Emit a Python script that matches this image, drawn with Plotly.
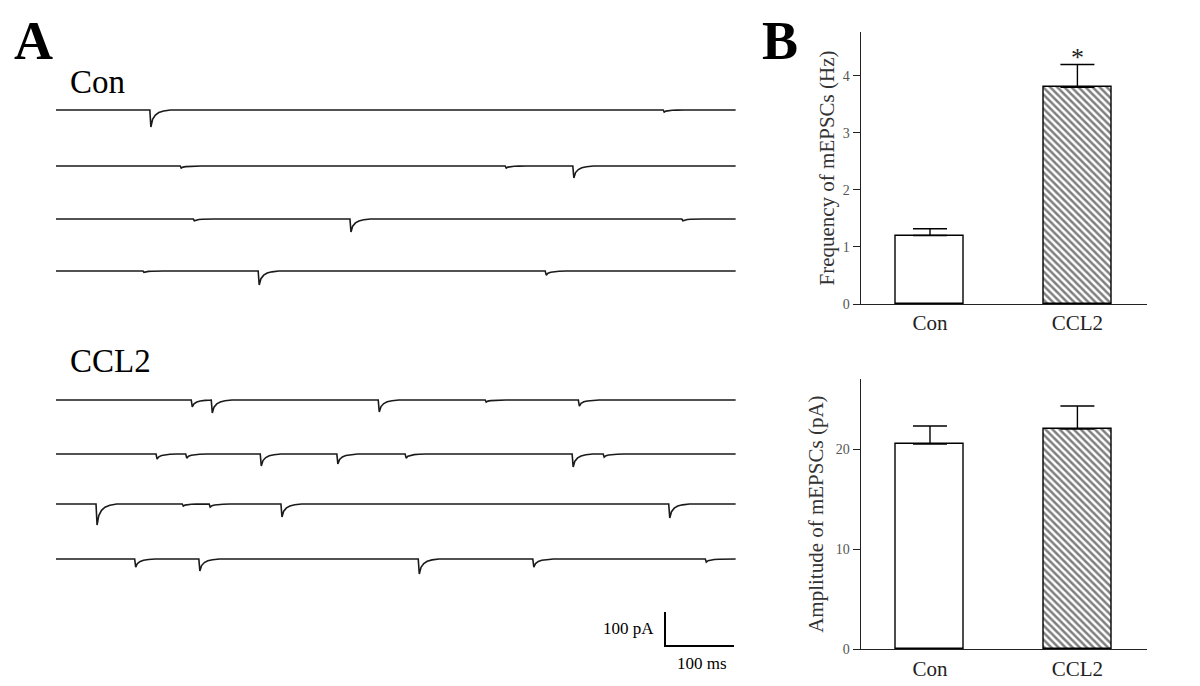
import plotly.graph_objects as go

# ---------------- data ----------------
# Panel B bar values (mean, +SEM)
groups = ["Con", "CCL2"]
freq_mean = [1.2, 3.8]      # Hz
freq_sem = [0.12, 0.4]
amp_mean = [20.5, 22.0]     # pA
amp_sem = [1.8, 2.3]

# Panel A example sweeps: events as (time ms, amplitude pA)
con_events = [
    [(136, 50), (880, 6)],
    [(180, 6), (651, 6), (749, 35)],
    [(199, 5), (426, 38), (907, 5)],
    [(126, 4), (293, 41), (709, 12)],
]
ccl2_events = [
    [(196, 20), (225, 38), (467, 35), (622, 6), (757, 18)],
    [(145, 15), (188, 12), (296, 35), (407, 29), (506, 12), (748, 38), (793, 9)],
    [(58, 62), (183, 6), (222, 9), (326, 38), (888, 41)],
    [(114, 24), (207, 35), (525, 44), (691, 24), (941, 9)],
]
sweep_ms = 985
scale_ms = 100
scale_pA = 100

# ---------------- layout helpers ----------------
# page body has an 8px margin, so the figure is drawn 8px in from the window edge
OFF = 8
W, H = 1200 - OFF, 686 - OFF
PX_PER_MS = 0.69
PA_PER_PX = 100 / 34.0
X0 = 56 - OFF  # left edge of sweeps in figure px


def px(x):
    return (x - OFF) / W


def py(y):
    return 1 - (y - OFF) / H


# event waveform (fast rise, decay) as offsets in ms / fraction of amplitude
kern_t = [0, 1.5, 4, 8, 13, 20, 30]
kern_f = [0, 1, 0.55, 0.3, 0.15, 0.06, 0]


def sweep(events, base):
    xs, ys = [0], [base]
    for t0, a in events:
        for dt, f in zip(kern_t, kern_f):
            xs.append(t0 + dt)
            ys.append(base - a * f)
    xs.append(sweep_ms)
    ys.append(base)
    return xs, ys


fig = go.Figure()

rows_px = [110, 166, 219, 271, 400, 454, 504, 559]
for i, ev in enumerate(con_events + ccl2_events):
    xs, ys = sweep(ev, -(rows_px[i] - OFF) * PA_PER_PX)
    fig.add_trace(go.Scatter(x=xs, y=ys, mode="lines", xaxis="x3", yaxis="y3",
                             line=dict(color="#1a1a1a", width=1.6), hoverinfo="skip"))

# scale bar
sb_t = (665 - OFF - X0) / PX_PER_MS
sb_y = -(646 - OFF) * PA_PER_PX
fig.add_trace(go.Scatter(x=[sb_t, sb_t, sb_t + scale_ms], y=[sb_y + scale_pA, sb_y, sb_y],
                         mode="lines", xaxis="x3", yaxis="y3",
                         line=dict(color="black", width=2), hoverinfo="skip"))

# bars
bar_style = dict(
    width=0.46,
    marker=dict(color="white", line=dict(color="black", width=1.4),
                pattern=dict(shape=["", "\\"], fgcolor="black", bgcolor="white",
                             size=5, solidity=0.5)),
)
fig.add_trace(go.Bar(x=groups, y=freq_mean, xaxis="x", yaxis="y",
                     error_y=dict(type="data", array=freq_sem, arrayminus=[0, 0],
                                  symmetric=False, color="black", thickness=1.4, width=17),
                     **bar_style))
fig.add_trace(go.Bar(x=groups, y=amp_mean, xaxis="x2", yaxis="y2",
                     error_y=dict(type="data", array=amp_sem, arrayminus=[0, 0],
                                  symmetric=False, color="black", thickness=1.4, width=17),
                     **bar_style))

serif = "Liberation Serif, Times New Roman, serif"
xdom = [px(860.7), px(1146.7)]
axis_common = dict(showgrid=False, zeroline=False, showline=True, linecolor="#222",
                   linewidth=1.3, automargin=False)
xcat = dict(axis_common, range=[-0.47, 1.47], ticks="",
            tickfont=dict(family=serif, size=21, color="#222"))
ycom = dict(axis_common, ticks="outside", ticklen=7, tickwidth=1.2, tickcolor="#222",
            tickfont=dict(family=serif, size=14, color="#555"))

fig.update_layout(
    width=W, height=H,
    margin=dict(l=0, r=0, t=0, b=0),
    plot_bgcolor="rgba(0,0,0,0)", paper_bgcolor="white",
    showlegend=False,
    bargap=0,
    xaxis=dict(xcat, domain=xdom, anchor="y"),
    yaxis=dict(ycom, domain=[py(304), py(32)], range=[0, 4.77], dtick=1,
               anchor="x",
               title=dict(text="Frequency of mEPSCs (Hz)", standoff=2,
                          font=dict(family=serif, size=21, color="#333"))),
    xaxis2=dict(xcat, domain=xdom, anchor="y2"),
    yaxis2=dict(ycom, domain=[py(649.3), py(379)], range=[0, 27], dtick=10,
                anchor="x2",
                title=dict(text="Amplitude of mEPSCs (pA)", standoff=6,
                           font=dict(family=serif, size=21, color="#333"))),
    xaxis3=dict(domain=[0, 1], range=[-X0 / PX_PER_MS, (W - X0) / PX_PER_MS],
                visible=False, anchor="y3", automargin=False),
    yaxis3=dict(domain=[0, 1], range=[-H * PA_PER_PX, 0], visible=False, anchor="x3",
                automargin=False),
)

ann = [
    dict(text="<b>A</b>", x=12, y=9, size=54),
    dict(text="<b>B</b>", x=760, y=9, size=54),
    dict(text="Con", x=68, y=62, size=33),
    dict(text="CCL2", x=68, y=341, size=33),
]
for a in ann:
    fig.add_annotation(text=a["text"], x=px(a["x"]), y=py(a["y"]), xref="paper",
                       yref="paper", xanchor="left", yanchor="top", showarrow=False,
                       font=dict(family=serif, size=a["size"], color="black"))

fig.add_annotation(text="*", x="CCL2", y=4.33, xref="x", yref="y", showarrow=False,
                   yanchor="middle", font=dict(family=serif, size=26, color="#222"))
fig.add_annotation(text="100 pA", x=px(656), y=py(628), xref="paper", yref="paper",
                   xanchor="right", yanchor="middle", showarrow=False,
                   font=dict(family=serif, size=17, color="black"))
fig.add_annotation(text="100 ms", x=px(702), y=py(663), xref="paper", yref="paper",
                   xanchor="center", yanchor="middle", showarrow=False,
                   font=dict(family=serif, size=17, color="black"))

fig.write_html("out.html")
